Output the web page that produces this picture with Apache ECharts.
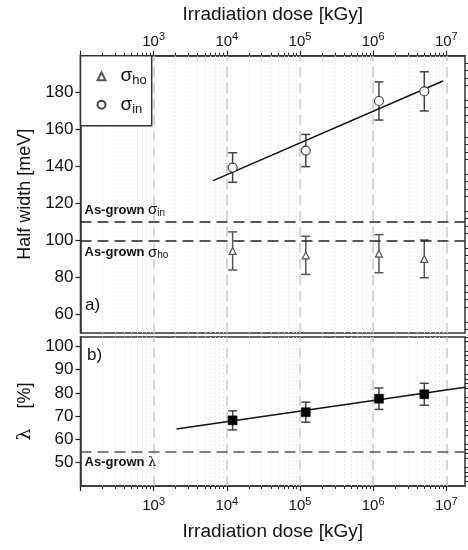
<!DOCTYPE html>
<html>
<head>
<meta charset="utf-8">
<script src="https://cdn.jsdelivr.net/npm/echarts@6/dist/echarts.min.js"></script>
<style>html,body{margin:0;padding:0;background:#fff;}#c{width:468px;height:550px;}</style>
</head>
<body>
<div id="c"></div>
<script>
// ---- data ----
const doses = [1.2e4, 1.2e5, 1.2e6, 5e6];
const sigmaHo = [94.4, 92.0, 92.9, 90.1];
const sigmaHoErr = [10.3, 10.3, 10.3, 10.2];
const sigmaIn = [139.5, 148.7, 175.5, 180.7];
const sigmaInErr = [8.0, 8.7, 10.3, 10.6];
const lambdaVals = [68.2, 71.7, 77.5, 79.4];
const lambdaErr = [4.1, 4.3, 4.6, 4.7];
const fitInX = [6.5e3, 9.0e6];
const fitInY = [132.4, 186.3];
const fitLamX = [2.05e3, 1.8e7];
const fitLamY = [64.5, 82.4];
const asGrownSigmaIn = 110;
const asGrownSigmaHo = 100;
const asGrownLambda = 54.5;
const decadeTicks = [1e3, 1e4, 1e5, 1e6, 1e7];
const minorTicksX = [];
[100, 1e3, 1e4, 1e5, 1e6].forEach(d => { for (let k = 2; k <= 9; k++) minorTicksX.push(k * d); });
const topYLabels = [60, 80, 100, 120, 140, 160, 180];
const botYLabels = [50, 60, 70, 80, 90, 100];

const FONT = 'Liberation Sans, Arial, sans-serif';
const XMIN = 100, XMAX = 1.8e7;

const chart = echarts.init(document.getElementById('c'), null, {renderer: 'canvas'});

function supFormatter(v) {
  const e = Math.round(Math.log10(v));
  if (Math.abs(v - Math.pow(10, e)) > 1e-6 * v || e < 3 || e > 7) return '';
  return '{b|10}{s|' + e + '}';
}
const supRich = {
  b: {fontSize: 15, fontFamily: FONT, color: '#111', lineHeight: 20},
  s: {fontSize: 11, fontFamily: FONT, color: '#111', verticalAlign: 'top', lineHeight: 20}
};

function errSeries(name, xi, yi, vals, errs, color) {
  return {
    type: 'custom', name: name, xAxisIndex: xi, yAxisIndex: yi, z: 3, silent: true,
    data: doses.map((d, i) => [d, vals[i] - errs[i], vals[i] + errs[i]]),
    encode: {x: 0, y: [1, 2]},
    renderItem: function (params, api) {
      const x = api.value(0);
      const p1 = api.coord([x, api.value(1)]);
      const p2 = api.coord([x, api.value(2)]);
      const w = 4.5;
      const st = {stroke: color, lineWidth: 1.5};
      return {type: 'group', children: [
        {type: 'line', shape: {x1: p1[0], y1: p1[1], x2: p2[0], y2: p2[1]}, style: st},
        {type: 'line', shape: {x1: p1[0] - w, y1: p1[1], x2: p1[0] + w, y2: p1[1]}, style: st},
        {type: 'line', shape: {x1: p2[0] - w, y1: p2[1], x2: p2[0] + w, y2: p2[1]}, style: st}
      ]};
    }
  };
}

function gridLineSeries(xi, yi) {
  const lines = [];
  minorTicksX.forEach(v => lines.push({xAxis: v, lineStyle: {color: '#e4e4e4', type: [1.5, 2.5], width: 1}}));
  decadeTicks.forEach(v => lines.push({xAxis: v, lineStyle: {color: '#c8c8c8', type: [10, 6], width: 1.5}}));
  return {
    type: 'line', xAxisIndex: xi, yAxisIndex: yi, data: [], silent: true,
    markLine: {z: 1, silent: true, symbol: ['none', 'none'], label: {show: false}, animation: false, data: lines}
  };
}

function asGrownLine(val, text, pos, color) {
  return {
    yAxis: val,
    lineStyle: {color: color, type: [11, 6], width: 1.5},
    label: {show: true, position: pos, distance: 4, formatter: text,
      fontFamily: FONT, fontWeight: 'bold', fontSize: 13, color: '#111',
      rich: {
        s: {fontFamily: FONT, fontSize: 15, fontWeight: 'normal', color: '#111'},
        l: {fontFamily: 'DejaVu Serif, serif', fontSize: 13, fontWeight: 'normal', color: '#111'},
        sub: {fontFamily: FONT, fontSize: 10, fontWeight: 'normal', color: '#111', verticalAlign: 'bottom', padding: [6, 0, 0, 0]},
        b: {fontFamily: FONT, fontWeight: 'bold', fontSize: 13, color: '#111'}
      }}
  };
}

const minorYTop = [];
for (let v = 52; v <= 200; v += 4) if (v % 20 !== 0) minorYTop.push(v);
const minorYBot = [];
for (let v = 40; v <= 104; v += 2) if (v % 10 !== 0) minorYBot.push(v);

const majorTick = {show: true, inside: false, length: 5, lineStyle: {color: '#222', width: 1.2}};
const minorTickStyle = {show: true, inside: false, length: 3, lineStyle: {color: '#222', width: 1}};

const option = {
  animation: false,
  backgroundColor: '#fff',
  textStyle: {fontFamily: FONT},
  grid: [
    {left: 80.5, top: 55.7, width: 384.5, height: 277.3, show: true, borderColor: '#333', borderWidth: 1.5, backgroundColor: 'transparent'},
    {left: 80.5, top: 337, width: 384.5, height: 149, show: true, borderColor: '#333', borderWidth: 1.5, backgroundColor: 'transparent'}
  ],
  legend: {
    left: 80.5, top: 55.7, orient: 'vertical',
    padding: [11, 5, 10, 16], itemGap: 8, itemWidth: 8, itemHeight: 8, itemTextGap: 5,
    borderColor: '#333', borderWidth: 1.5, backgroundColor: '#fff',
    data: [{name: 'σho', icon: 'triangle'}, {name: 'σin', icon: 'circle'}],
    formatter: function (n) { return '{s|σ}{sub|' + n.slice(1) + '}'; },
    textStyle: {rich: {
      s: {fontSize: 19, fontFamily: FONT, color: '#111', lineHeight: 22, padding: [0, 0, 0, 10]},
      sub: {fontSize: 13, fontFamily: FONT, color: '#111', verticalAlign: 'bottom', lineHeight: 22}
    }}
  },
  xAxis: [
    {type: 'log', gridIndex: 0, position: 'top', min: XMIN, max: XMAX, logBase: 10,
      name: 'Irradiation dose [kGy]', nameLocation: 'middle', nameGap: 31,
      nameTextStyle: {fontSize: 19, fontFamily: FONT, color: '#111'},
      axisLine: {show: true, lineStyle: {color: '#333', width: 1.5}},
      axisTick: majorTick, splitLine: {show: false},
      axisLabel: {margin: 4, formatter: supFormatter, rich: supRich, showMaxLabel: false}},
    {type: 'log', gridIndex: 1, position: 'bottom', min: XMIN, max: XMAX, logBase: 10,
      name: 'Irradiation dose [kGy]', nameLocation: 'middle', nameGap: 36,
      nameTextStyle: {fontSize: 19, fontFamily: FONT, color: '#111'},
      axisLine: {show: true, lineStyle: {color: '#333', width: 1.5}},
      axisTick: majorTick, splitLine: {show: false},
      axisLabel: {margin: 10, formatter: supFormatter, rich: supRich, showMaxLabel: false}},
    {type: 'log', gridIndex: 0, position: 'top', min: XMIN, max: XMAX, logBase: 10,
      axisLine: {show: false}, axisLabel: {show: false}, splitLine: {show: false},
      axisTick: Object.assign({customValues: minorTicksX}, minorTickStyle)},
    {type: 'log', gridIndex: 1, position: 'bottom', min: XMIN, max: XMAX, logBase: 10,
      axisLine: {show: false}, axisLabel: {show: false}, splitLine: {show: false},
      axisTick: Object.assign({customValues: minorTicksX}, minorTickStyle)}
  ],
  yAxis: [
    {type: 'value', gridIndex: 0, min: 50, max: 200,
      name: 'Half width [meV]', nameLocation: 'middle', nameGap: 46,
      nameTextStyle: {fontSize: 18, fontFamily: FONT, color: '#111'},
      axisLine: {show: true, lineStyle: {color: '#333', width: 1.5}},
      axisTick: Object.assign({customValues: topYLabels}, majorTick),
      axisLabel: {customValues: topYLabels, fontSize: 17, color: '#111', margin: 7, fontFamily: FONT},
      splitLine: {show: false}},
    {type: 'value', gridIndex: 1, min: 40, max: 104,
      name: '{l|λ}    [%]', nameLocation: 'middle', nameGap: 42,
      nameTextStyle: {fontSize: 18, fontFamily: FONT, color: '#111',
        rich: {l: {fontSize: 19, fontFamily: 'DejaVu Serif, Liberation Serif, serif', color: '#111'}}},
      axisLine: {show: true, lineStyle: {color: '#333', width: 1.5}},
      axisTick: Object.assign({customValues: botYLabels}, majorTick),
      axisLabel: {customValues: botYLabels, fontSize: 17, color: '#111', margin: 7, fontFamily: FONT},
      splitLine: {show: false}},
    {type: 'value', gridIndex: 0, min: 50, max: 200,
      axisLine: {show: false}, axisLabel: {show: false}, splitLine: {show: false},
      axisTick: Object.assign({customValues: minorYTop}, minorTickStyle)},
    {type: 'value', gridIndex: 1, min: 40, max: 104,
      axisLine: {show: false}, axisLabel: {show: false}, splitLine: {show: false},
      axisTick: Object.assign({customValues: minorYBot}, minorTickStyle)}
  ],
  graphic: [
    {type: 'text', left: 85, top: 297, style: {text: 'a)', fontSize: 17, fontFamily: FONT, fill: '#111'}},
    {type: 'text', left: 87, top: 347, style: {text: 'b)', fontSize: 17, fontFamily: FONT, fill: '#111'}}
  ],
  series: [
    gridLineSeries(0, 0),
    gridLineSeries(1, 1),
    {type: 'line', xAxisIndex: 0, yAxisIndex: 0, data: [], silent: true,
      markLine: {silent: true, symbol: ['none', 'none'], animation: false, data: [
        asGrownLine(asGrownSigmaIn, '{b|As-grown }{s|σ}{sub|in}', 'insideStartTop', '#222'),
        asGrownLine(asGrownSigmaHo, '{b|As-grown }{s|σ}{sub|ho}', 'insideStartBottom', '#222')
      ]}},
    {type: 'line', xAxisIndex: 1, yAxisIndex: 1, data: [], silent: true,
      markLine: {silent: true, symbol: ['none', 'none'], animation: false, data: [
        asGrownLine(asGrownLambda, '{b|As-grown }{l|λ}', 'insideStartBottom', '#555')
      ]}},
    {type: 'line', name: 'fitIn', xAxisIndex: 0, yAxisIndex: 0, showSymbol: false, silent: true, z: 3,
      data: fitInX.map((x, i) => [x, fitInY[i]]), lineStyle: {color: '#111', width: 1.5}},
    {type: 'line', name: 'fitLam', xAxisIndex: 1, yAxisIndex: 1, showSymbol: false, silent: true, z: 3,
      data: fitLamX.map((x, i) => [x, fitLamY[i]]), lineStyle: {color: '#111', width: 1.5}},
    errSeries('errHo', 0, 0, sigmaHo, sigmaHoErr, '#555'),
    errSeries('errIn', 0, 0, sigmaIn, sigmaInErr, '#444'),
    errSeries('errLam', 1, 1, lambdaVals, lambdaErr, '#444'),
    {type: 'scatter', name: 'σho', xAxisIndex: 0, yAxisIndex: 0, symbol: 'triangle', symbolSize: 7, z: 4,
      data: doses.map((d, i) => [d, sigmaHo[i]]),
      itemStyle: {color: '#fff', borderColor: '#555', borderWidth: 1.2, opacity: 1}},
    {type: 'scatter', name: 'σin', xAxisIndex: 0, yAxisIndex: 0, symbol: 'circle', symbolSize: 9, z: 4,
      data: doses.map((d, i) => [d, sigmaIn[i]]),
      itemStyle: {color: '#fff', borderColor: '#444', borderWidth: 1.2, opacity: 1}},
    {type: 'scatter', name: 'lambda', xAxisIndex: 1, yAxisIndex: 1, symbol: 'rect', symbolSize: 9, z: 4,
      data: doses.map((d, i) => [d, lambdaVals[i]]),
      itemStyle: {color: '#000', borderColor: '#000', borderWidth: 0.5, opacity: 1}}
  ]
};
chart.setOption(option);
</script>
</body>
</html>
